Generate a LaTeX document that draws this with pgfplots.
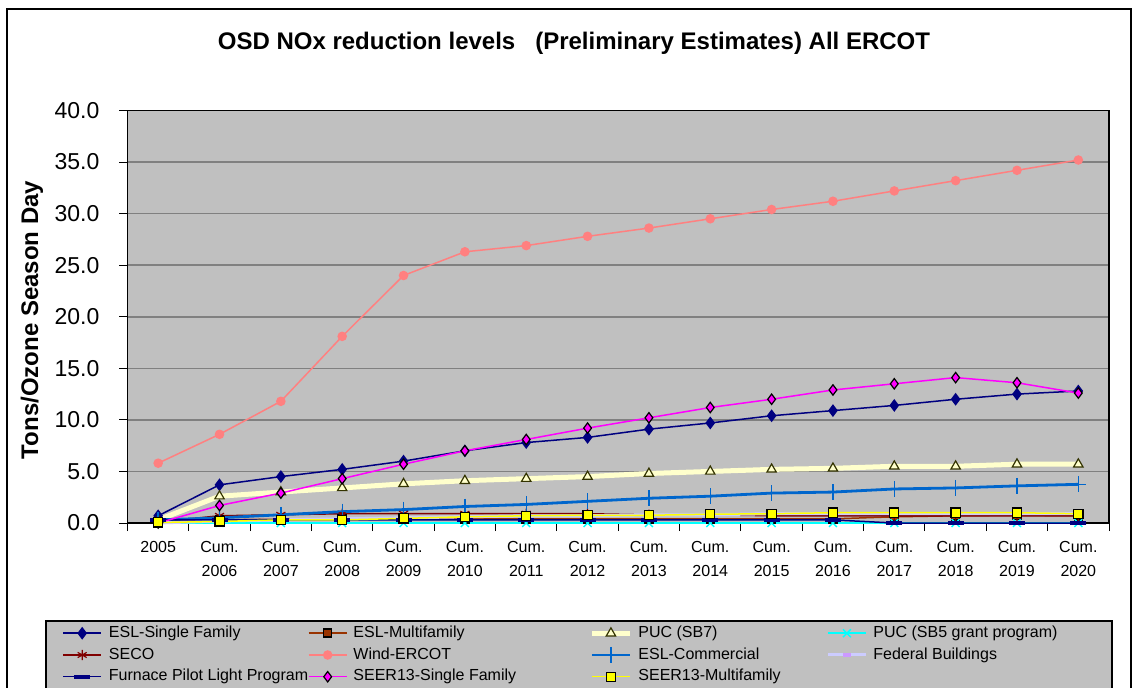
\documentclass[border=0pt]{standalone}
\usepackage{fontspec}
\setmainfont{Liberation Sans}
\usepackage{pgfplots}
\pgfplotsset{compat=1.18}

\definecolor{silverbg}{HTML}{C0C0C0}
\definecolor{gridgray}{HTML}{808080}
\definecolor{eslsf}{HTML}{000080}
\definecolor{eslmf}{HTML}{993300}
\definecolor{pucline}{HTML}{FFFFCC}
\definecolor{pucedge}{HTML}{333300}
\definecolor{sbfive}{HTML}{00FFFF}
\definecolor{seco}{HTML}{800000}
\definecolor{wind}{HTML}{FF8080}
\definecolor{eslcom}{HTML}{0066CC}
\definecolor{fedline}{HTML}{CCCCFF}
\definecolor{fedmark}{HTML}{CC99FF}
\definecolor{furnace}{HTML}{000080}
\definecolor{seersf}{HTML}{FF00FF}
\definecolor{seermf}{HTML}{FFFF00}

\begin{document}
\begin{tikzpicture}
% page, chart frame, legend box (1 px = 0.5 pt)
\fill[white] (0,0) rectangle (566pt,343.5pt);
\draw[black, line width=0.6pt] (3.5pt,339pt) rectangle (565.5pt,-20pt);
\draw[black, fill=silverbg, line width=0.6pt] (23pt,33pt) rectangle (556pt,-20pt);
\node[font=\fontsize{12}{14}\selectfont\bfseries] at (287pt,322pt)
  {OSD NOx reduction levels\ \ \ (Preliminary Estimates) All ERCOT};
\node[rotate=90, font=\fontsize{12}{14}\selectfont\bfseries] at (16pt,183.5pt)
  {Tons/Ozone Season Day};

\begin{axis}[
  at={(63.75pt,82pt)}, anchor=south west,
  scale only axis, width=490.75pt, height=206.25pt,
  xmin=-0.5, xmax=15.5, ymin=0, ymax=40,
  axis background/.style={fill=silverbg},
  axis line style={black, line width=0.8pt},
  ymajorgrids, grid style={gridgray, line width=0.8pt},
  ytick={0,5,...,40}, ytick pos=left,
  xtick={-0.5,0.5,...,15.5}, xtick pos=bottom,
  xticklabels={2005,{Cum.\\2006},{Cum.\\2007},{Cum.\\2008},{Cum.\\2009},{Cum.\\2010},{Cum.\\2011},{Cum.\\2012},{Cum.\\2013},{Cum.\\2014},{Cum.\\2015},{Cum.\\2016},{Cum.\\2017},{Cum.\\2018},{Cum.\\2019},{Cum.\\2020},{}},
  xticklabel style={xshift=15.34pt, yshift=-1.5pt, align=center, font=\fontsize{8}{12}\selectfont},
  yticklabel style={xshift=-6.5pt, font=\fontsize{11.5}{12}\selectfont},
  tick align=outside, major tick length=4pt,
  tick style={black, line width=0.5pt},
  /pgf/number format/.cd, fixed, fixed zerofill, precision=1, assume math mode=true,
  /pgfplots/.cd,
  clip=false,
  legend columns=4,
  legend cell align=left,
  legend image code/.code={\draw[mark repeat=2,mark phase=2,#1] plot coordinates {(0pt,0pt) (9.5pt,0pt) (19pt,0pt)};},
  legend style={at={(-0.0667,-0.2475)}, anchor=north west, draw=none, fill=none,
    inner sep=0pt, column sep=0pt, row sep=3pt,
    font=\fontsize{8}{9}\selectfont,
    nodes={inner sep=0pt, text height=6pt, text depth=1.75pt}},
]
% ESL-Single Family
\addplot[eslsf, line width=0.75pt, mark=diamond*, mark size=2.6pt, mark options={fill=eslsf, draw=eslsf}]
  coordinates {(0,0.7)(1,3.7)(2,4.5)(3,5.2)(4,6.0)(5,7.0)(6,7.8)(7,8.3)(8,9.1)(9,9.7)(10,10.4)(11,10.9)(12,11.4)(13,12.0)(14,12.5)(15,12.8)};
\addlegendentry{\makebox[103pt][l]{\hspace{3.5pt}ESL-Single Family}}
% ESL-Multifamily
\addplot[eslmf, line width=0.75pt, mark=square*, mark size=2pt, mark options={fill=eslmf, draw=black}]
  coordinates {(0,0.1)(1,0.3)(2,0.4)(3,0.4)(4,0.4)(5,0.4)(6,0.4)(7,0.4)(8,0.4)(9,0.4)(10,0.4)(11,0.4)(12,0.6)(13,0.7)(14,0.75)(15,0.7)};
\addlegendentry{\makebox[121pt][l]{\hspace{3pt}ESL-Multifamily}}
% PUC (SB7)
\addplot[pucline, line width=2.5pt, mark=triangle*, mark size=2.7pt, mark options={fill=pucline, draw=pucedge, line width=0.6pt}]
  coordinates {(0,0.3)(1,2.6)(2,3.0)(3,3.4)(4,3.8)(5,4.1)(6,4.3)(7,4.5)(8,4.8)(9,5.0)(10,5.2)(11,5.3)(12,5.5)(13,5.5)(14,5.7)(15,5.7)};
\addlegendentry{\makebox[97pt][l]{\hspace{3pt}PUC (SB7)}}
% PUC (SB5 grant program)
\addplot[sbfive, line width=0.75pt, mark=x, mark size=2.8pt, mark options={line width=0.7pt}]
  coordinates {(0,0)(1,0)(2,0)(3,0)(4,0)(5,0)(6,0)(7,0)(8,0)(9,0)(10,0)(11,0)(12,0)(13,0)(14,0)(15,0)};
\addlegendentry{\makebox[110pt][l]{\hspace{3pt}PUC (SB5 grant program)}}
% SECO
\addplot[seco, line width=0.75pt, mark=asterisk, mark size=2.6pt, mark options={line width=0.6pt}]
  coordinates {(0,0.1)(1,0.7)(2,0.8)(3,0.9)(4,0.9)(5,0.9)(6,0.9)(7,0.9)(8,0.8)(9,0.8)(10,0.7)(11,0.7)(12,0.7)(13,0.7)(14,0.7)(15,0.7)};
\addlegendentry{\makebox[103pt][l]{\hspace{3.5pt}SECO}}
% Wind-ERCOT
\addplot[wind, line width=0.75pt, mark=*, mark size=2pt, mark options={fill=wind, draw=wind}]
  coordinates {(0,5.8)(1,8.6)(2,11.8)(3,18.1)(4,24.0)(5,26.3)(6,26.9)(7,27.8)(8,28.6)(9,29.5)(10,30.4)(11,31.2)(12,32.2)(13,33.2)(14,34.2)(15,35.2)};
\addlegendentry{\makebox[121pt][l]{\hspace{3pt}Wind-ERCOT}}
% ESL-Commercial
\addplot[eslcom, line width=1.4pt, mark=+, mark size=4pt, mark options={line width=0.7pt}]
  coordinates {(0,0.3)(1,0.5)(2,0.8)(3,1.1)(4,1.3)(5,1.6)(6,1.8)(7,2.1)(8,2.4)(9,2.6)(10,2.9)(11,3.0)(12,3.3)(13,3.4)(14,3.6)(15,3.75)};
\addlegendentry{\makebox[97pt][l]{\hspace{3pt}ESL-Commercial}}
% Federal Buildings
\addplot[fedline, line width=1.5pt, mark=-, mark size=2pt, mark options={draw=fedmark, line width=2pt}]
  coordinates {(0,0)(1,0.2)(2,0.3)(3,0.4)(4,0.5)(5,0.6)(6,0.7)(7,0.7)(8,0.8)(9,0.8)(10,0.9)(11,0.9)(12,0.9)(13,0.9)(14,0.9)(15,0.9)};
\addlegendentry{\makebox[110pt][l]{\hspace{3pt}Federal Buildings}}
% Furnace Pilot Light Program
\addplot[furnace, line width=0.75pt, mark=-, mark size=4pt, mark options={line width=2pt}]
  coordinates {(0,0.3)(1,0.3)(2,0.3)(3,0.3)(4,0.3)(5,0.3)(6,0.3)(7,0.3)(8,0.3)(9,0.3)(10,0.3)(11,0.3)(12,0)(13,0)(14,0)(15,0)};
\addlegendentry{\makebox[103pt][l]{\hspace{3.5pt}Furnace Pilot Light Program}}
% SEER13-Single Family
\addplot[seersf, line width=0.75pt, mark=diamond*, mark size=2.6pt, mark options={fill=seersf, draw=black, line width=0.6pt}]
  coordinates {(0,0)(1,1.7)(2,2.9)(3,4.3)(4,5.7)(5,7.0)(6,8.1)(7,9.2)(8,10.2)(9,11.2)(10,12.0)(11,12.9)(12,13.5)(13,14.1)(14,13.6)(15,12.6)};
\addlegendentry{\makebox[121pt][l]{\hspace{3pt}SEER13-Single Family}}
% SEER13-Multifamily
\addplot[seermf, line width=0.75pt, mark=square*, mark size=2.3pt, mark options={fill=seermf, draw=black, line width=0.6pt}]
  coordinates {(0,0.05)(1,0.15)(2,0.3)(3,0.3)(4,0.45)(5,0.6)(6,0.7)(7,0.75)(8,0.75)(9,0.85)(10,0.9)(11,1.0)(12,1.0)(13,1.0)(14,1.0)(15,0.9)};
\addlegendentry{\makebox[97pt][l]{\hspace{3pt}SEER13-Multifamily}}
\end{axis}
\pgfresetboundingbox
\useasboundingbox (0,0) rectangle (566pt,343.5pt);
\end{tikzpicture}
\end{document}
